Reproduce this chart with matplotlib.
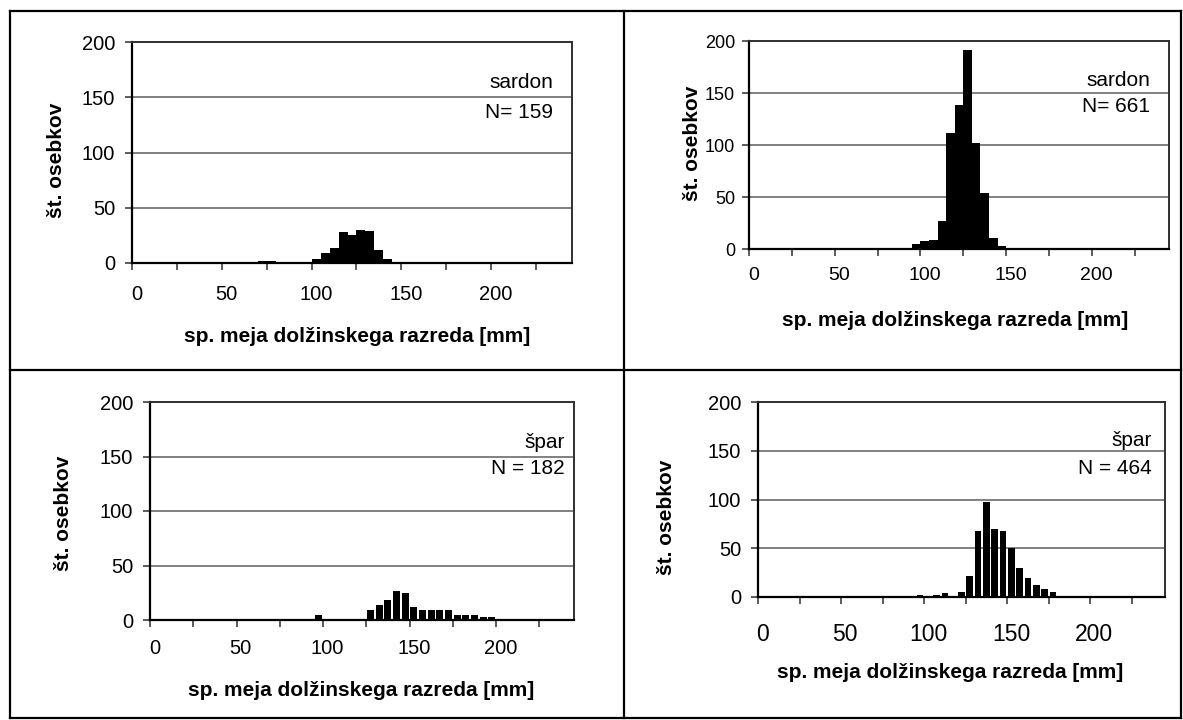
import numpy as np
import matplotlib
matplotlib.use("Agg")
import matplotlib.pyplot as plt
from matplotlib.lines import Line2D

plt.rcParams['font.family'] = ['Liberation Sans', 'DejaVu Sans']

# Lower limit of each 5 mm length class and the count of fish in it
sardon1_bins = [70, 75, 100, 105, 110, 115, 120, 125, 130, 135, 140]
sardon1_counts = [2, 2, 4, 9, 14, 28, 25, 30, 29, 12, 4]

sardon2_bins = [90, 95, 100, 105, 110, 115, 120, 125, 130, 135, 140, 145]
sardon2_counts = [1, 5, 8, 9, 27, 112, 138, 191, 102, 54, 11, 3]

spar1_bins = [95, 115, 125, 130, 135, 140, 145, 150, 155, 160, 165, 170,
              175, 180, 185, 190, 195, 200, 205, 215]
spar1_counts = [5, 1, 9, 14, 18, 27, 25, 12, 9, 9, 9, 9,
                5, 5, 5, 3, 3, 1, 1, 1]

spar2_bins = [95, 105, 110, 120, 125, 130, 135, 140, 145, 150, 155, 160,
              165, 170, 175]
spar2_counts = [2, 2, 4, 5, 22, 68, 97, 70, 68, 50, 30, 19, 12, 8, 5]

species = ["sardon", "sardon", "špar", "špar"]
n_labels = ["N= 159", "N= 661", "N = 182", "N = 464"]
x_ticklabels = ["0", "50", "100", "150", "200"]
y_ticks = [0, 50, 100, 150, 200]
y_label = "št. osebkov"
x_label = "sp. meja dolžinskega razreda [mm]"

W, H = 1183, 720
fig = plt.figure(figsize=(W / 100, H / 100), dpi=100)


def fx(x):
    return x / W


def fy(y):
    return 1 - y / H


def px_text(x, y, s, **kw):
    fig.text(fx(x), fy(y), s, **kw)


# Panel geometry in pixels: plot box, tick/label placement
panels = [
    dict(box=(132, 572, 42, 263), bins=sardon1_bins, counts=sardon1_counts,
         width=5.0, xpad=15.5, xfs=14.5, yfs=14.5, ypad=7,
         ylab=(57, 160), xlab=(357, 337), sp=(553, 82), n=(553, 112)),
    dict(box=(749, 1169, 41, 249), bins=sardon2_bins, counts=sardon2_counts,
         width=5.0, xpad=13, xfs=14, yfs=13, ypad=5,
         ylab=(693, 143), xlab=(955, 320), sp=(1150, 81), n=(1150, 107)),
    dict(box=(150, 574, 402, 620), bins=spar1_bins, counts=spar1_counts,
         width=4.0, xpad=13.5, xfs=14.5, yfs=14.5, ypad=7,
         ylab=(64, 513), xlab=(361, 690), sp=(565, 442), n=(565, 468)),
    dict(box=(758, 1165, 402, 597), bins=spar2_bins, counts=spar2_counts,
         width=4.0, xpad=18.5, xfs=16.5, yfs=14.5, ypad=7,
         ylab=(667, 517), xlab=(950, 673), sp=(1152, 440), n=(1152, 468)),
]

for i, p in enumerate(panels):
    x0, x1, y0, y1 = p["box"]
    ax = fig.add_axes([fx(x0), fy(y1), (x1 - x0) / W, (y1 - y0) / H])
    ax.set_xlim(0, 245)
    ax.set_ylim(0, 200)
    centers = np.array(p["bins"]) + 2.5
    ax.bar(centers, p["counts"], width=p["width"], color="black",
           edgecolor="none", zorder=3)
    for g in (50, 100, 150):
        ax.axhline(g, color="#808080", lw=1.4, zorder=1)

    ax.set_xticks(np.arange(0, 226, 25))
    ax.set_xticklabels([])
    ax.set_xticks([v + 2.5 for v in (0, 50, 100, 150, 200)], minor=True)
    ax.set_xticklabels(x_ticklabels, minor=True, fontsize=p["xfs"])
    ax.tick_params(axis="x", which="major", direction="out", length=5,
                   width=1.2, color="#404040")
    ax.tick_params(axis="x", which="minor", length=0, pad=p["xpad"])

    ax.set_yticks(y_ticks)
    ax.set_yticklabels([str(v) for v in y_ticks], fontsize=p["yfs"])
    ax.tick_params(axis="y", direction="out", length=5, width=1.2,
                   color="#404040", pad=p["ypad"])
    for side in ("left", "bottom"):
        ax.spines[side].set_color("black")
        ax.spines[side].set_linewidth(1.6)
    for side in ("top", "right"):
        ax.spines[side].set_color("#303030")
        ax.spines[side].set_linewidth(1.4)

    px_text(*p["ylab"], y_label, rotation=90, ha="center", va="center",
            fontsize=15, fontweight="bold")
    px_text(*p["xlab"], x_label, ha="center", va="center",
            fontsize=15, fontweight="bold")
    px_text(*p["sp"], species[i], ha="right", va="center", fontsize=15)
    px_text(*p["n"], n_labels[i], ha="right", va="center", fontsize=15)

# Table frame around the four panels
frame_kw = dict(color="black", lw=1.6, transform=fig.transFigure)
for (xa, ya, xb, yb) in [(10, 11, 1181, 11), (10, 718, 1181, 718),
                         (10, 11, 10, 718), (1181, 11, 1181, 718),
                         (624, 11, 624, 718), (10, 370, 1181, 370)]:
    fig.add_artist(Line2D([fx(xa), fx(xb)], [fy(ya), fy(yb)], **frame_kw))

fig.savefig("out.png", dpi=100)
